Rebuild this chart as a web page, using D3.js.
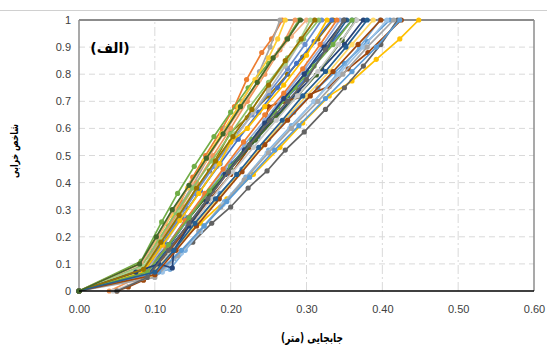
<!DOCTYPE html>
<html><head><meta charset="utf-8">
<script src="https://cdn.jsdelivr.net/npm/d3@7"></script>
<style>body{margin:0;background:#fff}svg{display:block}</style>
</head><body>
<script>
const xTicks = [0, 0.1, 0.2, 0.3, 0.4, 0.5, 0.6];
const yTicks = [0, 0.1, 0.2, 0.3, 0.4, 0.5, 0.6, 0.7, 0.8, 0.9, 1];
const xTitle = "جابجایی (متر)";
const yTitle = "شاخص خرابی";
const panelLabel = "(الف)";
// each series: [displacement, damage index] points
const seriesData = [
 [[0,0],[0.085,0.07],[0.117,0.17],[0.142,0.27],[0.176,0.37],[0.201,0.47],[0.236,0.57],[0.262,0.68],[0.298,0.78],[0.325,0.89],[0.36,1]],
 [[0,0],[0.078,0.08],[0.098,0.15],[0.118,0.24],[0.134,0.33],[0.15,0.42],[0.167,0.5],[0.189,0.6],[0.205,0.68],[0.221,0.78],[0.241,0.88],[0.254,0.93],[0.268,1]],
 [[0,0],[0.08,0.09],[0.105,0.18],[0.128,0.29],[0.15,0.39],[0.172,0.5],[0.193,0.6],[0.215,0.7],[0.238,0.81],[0.252,0.9],[0.265,1]],
 [[0,0],[0.09,0.08],[0.125,0.16],[0.16,0.25],[0.195,0.34],[0.23,0.43],[0.265,0.53],[0.295,0.62],[0.33,0.72],[0.36,0.775],[0.392,0.855],[0.423,0.93],[0.448,1]],
 [[0,0],[0.1,0.08],[0.128,0.17],[0.156,0.26],[0.186,0.36],[0.215,0.45],[0.25,0.56],[0.283,0.66],[0.315,0.75],[0.35,0.84],[0.38,0.92],[0.41,1]],
 [[0,0],[0.082,0.11],[0.109,0.255],[0.13,0.36],[0.152,0.46],[0.178,0.57],[0.2,0.66],[0.223,0.75],[0.25,0.84],[0.274,0.93],[0.29,1]],
 [[0,0],[0.095,0.07],[0.12,0.16],[0.148,0.26],[0.172,0.35],[0.2,0.45],[0.228,0.55],[0.262,0.65],[0.29,0.74],[0.32,0.82],[0.35,0.91],[0.375,1]],
 [[0.05,0],[0.065,0.015],[0.085,0.04],[0.11,0.12],[0.14,0.22],[0.17,0.33],[0.2,0.43],[0.225,0.53],[0.245,0.62],[0.25,0.68],[0.27,0.7],[0.3,0.72],[0.33,0.755],[0.355,0.82],[0.381,0.88],[0.425,1]],
 [[0,0],[0.1,0.06],[0.125,0.12],[0.15,0.18],[0.175,0.25],[0.2,0.31],[0.223,0.38],[0.248,0.443],[0.272,0.52],[0.297,0.587],[0.325,0.67],[0.35,0.75],[0.375,0.83],[0.398,0.91],[0.42,1]],
 [[0,0],[0.085,0.08],[0.11,0.18],[0.14,0.31],[0.172,0.443],[0.199,0.583],[0.222,0.64],[0.25,0.72],[0.275,0.8],[0.295,0.863],[0.315,0.93],[0.335,1]],
 [[0,0],[0.09,0.06],[0.115,0.15],[0.14,0.25],[0.165,0.34],[0.19,0.43],[0.22,0.53],[0.248,0.63],[0.275,0.72],[0.3,0.81],[0.328,0.9],[0.353,1]],
 [[0,0],[0.09,0.07],[0.118,0.17],[0.145,0.27],[0.172,0.36],[0.2,0.45],[0.233,0.557],[0.26,0.64],[0.288,0.72],[0.313,0.797],[0.347,0.926],[0.365,1]],
 [[0,0],[0.085,0.08],[0.108,0.17],[0.13,0.26],[0.153,0.36],[0.178,0.46],[0.2,0.55],[0.228,0.65],[0.25,0.73],[0.275,0.82],[0.298,0.91],[0.32,1]],
 [[0.04,0],[0.078,0.05],[0.095,0.13],[0.115,0.22],[0.135,0.31],[0.155,0.4],[0.177,0.5],[0.2,0.6],[0.222,0.7],[0.245,0.8],[0.265,0.89],[0.285,1]],
 [[0,0],[0.09,0.08],[0.112,0.17],[0.138,0.28],[0.16,0.37],[0.182,0.46],[0.205,0.56],[0.23,0.66],[0.25,0.74],[0.272,0.83],[0.292,0.92],[0.31,1]],
 [[0,0],[0.08,0.1],[0.1,0.18],[0.122,0.28],[0.143,0.38],[0.165,0.48],[0.188,0.58],[0.21,0.68],[0.232,0.78],[0.25,0.86],[0.262,0.93],[0.272,1]],
 [[0,0],[0.12,0.08],[0.14,0.15],[0.165,0.24],[0.192,0.33],[0.22,0.42],[0.25,0.52],[0.28,0.61],[0.31,0.7],[0.34,0.8],[0.37,0.9],[0.397,1]],
 [[0,0],[0.082,0.09],[0.105,0.19],[0.128,0.29],[0.15,0.38],[0.175,0.48],[0.2,0.58],[0.225,0.68],[0.25,0.77],[0.275,0.86],[0.296,0.93],[0.316,1]],
 [[0,0],[0.088,0.06],[0.115,0.16],[0.14,0.25],[0.165,0.35],[0.192,0.45],[0.218,0.54],[0.245,0.63],[0.27,0.72],[0.298,0.82],[0.322,0.91],[0.344,1]],
 [[0,0],[0.082,0.1],[0.104,0.2],[0.125,0.3],[0.148,0.4],[0.17,0.49],[0.193,0.59],[0.215,0.68],[0.238,0.78],[0.26,0.87],[0.28,0.94],[0.3,1]],
 [[0.045,0],[0.09,0.05],[0.12,0.14],[0.148,0.24],[0.175,0.34],[0.203,0.44],[0.23,0.53],[0.26,0.63],[0.288,0.72],[0.315,0.81],[0.342,0.91],[0.366,1]],
 [[0,0],[0.095,0.06],[0.125,0.15],[0.152,0.24],[0.18,0.33],[0.21,0.43],[0.24,0.53],[0.27,0.63],[0.3,0.72],[0.33,0.81],[0.36,0.91],[0.388,1]],
 [[0,0],[0.11,0.07],[0.135,0.14],[0.16,0.22],[0.19,0.32],[0.218,0.41],[0.248,0.51],[0.278,0.6],[0.31,0.7],[0.343,0.8],[0.375,0.9],[0.406,1]],
 [[0,0],[0.085,0.09],[0.11,0.19],[0.133,0.29],[0.155,0.38],[0.18,0.48],[0.205,0.58],[0.228,0.67],[0.25,0.76],[0.272,0.84],[0.29,0.92],[0.305,1]],
 [[0,0],[0.088,0.08],[0.112,0.18],[0.135,0.27],[0.16,0.37],[0.186,0.47],[0.21,0.56],[0.237,0.66],[0.262,0.75],[0.287,0.84],[0.31,0.92],[0.333,1]],
 [[0,0],[0.09,0.07],[0.115,0.16],[0.14,0.26],[0.166,0.36],[0.19,0.45],[0.217,0.55],[0.245,0.65],[0.27,0.73],[0.295,0.82],[0.318,0.91],[0.34,1]],
 [[0,0],[0.1,0.05],[0.13,0.13],[0.158,0.22],[0.187,0.31],[0.218,0.41],[0.25,0.51],[0.28,0.6],[0.315,0.7],[0.348,0.8],[0.38,0.9],[0.415,1]],
 [[0,0],[0.085,0.07],[0.11,0.17],[0.133,0.26],[0.158,0.36],[0.185,0.47],[0.2,0.55],[0.222,0.6],[0.245,0.68],[0.27,0.76],[0.3,0.87],[0.327,1]],
 [[0,0],[0.105,0.07],[0.135,0.15],[0.165,0.24],[0.195,0.33],[0.225,0.42],[0.258,0.52],[0.29,0.61],[0.325,0.71],[0.36,0.81],[0.392,0.9],[0.423,1]],
 [[0,0],[0.09,0.07],[0.118,0.17],[0.145,0.27],[0.172,0.37],[0.2,0.46],[0.228,0.56],[0.258,0.66],[0.285,0.75],[0.31,0.83],[0.335,0.91],[0.36,1]],
 [[0,0],[0.075,0.07],[0.105,0.1],[0.123,0.085],[0.125,0.15],[0.145,0.24],[0.168,0.33],[0.193,0.43],[0.218,0.52],[0.245,0.62],[0.27,0.71],[0.297,0.8],[0.323,0.9],[0.35,1]],
 [[0,0],[0.1,0.06],[0.128,0.15],[0.155,0.24],[0.185,0.34],[0.215,0.44],[0.245,0.54],[0.275,0.63],[0.305,0.72],[0.335,0.81],[0.368,0.91],[0.398,1]],
 [[0.05,0],[0.09,0.05],[0.118,0.15],[0.145,0.25],[0.17,0.34],[0.197,0.44],[0.225,0.54],[0.252,0.63],[0.275,0.7],[0.3,0.78],[0.325,0.89],[0.349,1]],
 [[0,0],[0.085,0.08],[0.108,0.18],[0.132,0.28],[0.155,0.38],[0.18,0.48],[0.203,0.57],[0.228,0.67],[0.25,0.76],[0.272,0.85],[0.293,0.93],[0.311,1]],
 [[0,0],[0.1,0.07],[0.125,0.15],[0.153,0.25],[0.18,0.34],[0.208,0.43],[0.237,0.53],[0.268,0.63],[0.295,0.72],[0.325,0.81],[0.352,0.9],[0.38,1]],
 [[0,0],[0.08,0.1],[0.102,0.2],[0.123,0.3],[0.145,0.39],[0.168,0.49],[0.19,0.58],[0.213,0.68],[0.235,0.77],[0.256,0.86],[0.275,0.93],[0.292,1]]
];

const palette = ["#4472C4","#ED7D31","#A5A5A5","#FFC000","#5B9BD5","#70AD47",
 "#264478","#9E480E","#636363","#997300","#255E91","#43682B",
 "#698ED0","#F1975A","#B7B7B7","#FFCD33","#7CAFDD","#8CC168",
 "#8FAADC","#F4B183","#C9C9C9","#FFD966","#9DC3E6","#A9D18E"];

const W = 547, H = 345;
const m = {left: 79, right: 13, top: 20, bottom: 54};
const svg = d3.select("body").append("svg").attr("width", W).attr("height", H);

const x = d3.scaleLinear().domain([0, 0.6]).range([m.left, W - m.right]);
const y = d3.scaleLinear().domain([0, 1]).range([H - m.bottom, m.top]);

svg.append("line").attr("x1",0).attr("x2",W).attr("y1",10.5).attr("y2",10.5)
  .attr("stroke","#d0d0d0").attr("stroke-width",1);

// grid
svg.append("g").selectAll("line").data(yTicks.filter(d => d > 0 && d < 1)).join("line")
  .attr("x1", x(0)).attr("x2", x(0.6)).attr("y1", d => y(d)).attr("y2", d => y(d))
  .attr("stroke", "#d9d9d9").attr("stroke-width", 1).attr("stroke-dasharray", "6,4");
svg.append("g").selectAll("line").data(xTicks.filter(d => d > 0 && d < 0.6)).join("line")
  .attr("x1", d => x(d)).attr("x2", d => x(d)).attr("y1", y(0)).attr("y2", y(1))
  .attr("stroke", "#d9d9d9").attr("stroke-width", 1).attr("stroke-dasharray", "9,3,2,3");

// frame
svg.append("line").attr("x1", x(0)).attr("x2", x(0.6)).attr("y1", y(1)).attr("y2", y(1))
  .attr("stroke", "#8c8c8c").attr("stroke-width", 2);
svg.append("line").attr("x1", x(0.6)).attr("x2", x(0.6)).attr("y1", y(1)).attr("y2", y(0))
  .attr("stroke", "#8c8c8c").attr("stroke-width", 1.5);
svg.append("line").attr("x1", x(0)).attr("x2", x(0)).attr("y1", y(1)).attr("y2", y(0))
  .attr("stroke", "#8c8c8c").attr("stroke-width", 1.5);

// series
const line = d3.line().x(d => x(d[0])).y(d => y(d[1]));
const gS = svg.append("g");
seriesData.forEach((s, i) => {
  const c = palette[i % palette.length];
  gS.append("path").datum(s).attr("d", line).attr("fill", "none")
    .attr("stroke", c).attr("stroke-width", 1.7);
  gS.append("g").selectAll("circle").data(s).join("circle")
    .attr("cx", d => x(d[0])).attr("cy", d => y(d[1])).attr("r", 2.6).attr("fill", c);
});

svg.append("line").attr("x1", x(0)).attr("x2", x(0.6)).attr("y1", y(0)).attr("y2", y(0))
  .attr("stroke", "#000").attr("stroke-width", 1.5);

// axes labels
const xa = svg.append("g").attr("transform", `translate(0,${y(0)})`)
  .call(d3.axisBottom(x).tickValues(xTicks).tickFormat(d3.format(".2f")).tickSize(0).tickPadding(14));
xa.select(".domain").remove();
xa.selectAll("text").attr("font-family", "Liberation Sans, Arial, sans-serif").attr("font-size", 11).attr("fill", "#404040");
const ya = svg.append("g").attr("transform", `translate(${x(0)},0)`)
  .call(d3.axisLeft(y).tickValues(yTicks).tickFormat(d => d3.format("")(+d.toFixed(1))).tickSize(0).tickPadding(8));
ya.select(".domain").remove();
ya.selectAll("text").attr("font-family", "Liberation Sans, Arial, sans-serif").attr("font-size", 11).attr("fill", "#404040");

svg.append("text").attr("x", 312).attr("y", 342).attr("text-anchor", "middle")
  .attr("font-family", "DejaVu Sans, sans-serif").attr("font-weight", "bold").attr("font-size", 12)
  .attr("textLength", 62).attr("lengthAdjust", "spacingAndGlyphs")
  .attr("direction", "rtl").text(xTitle);
svg.append("text").attr("transform", "translate(18,151) rotate(-90)").attr("text-anchor", "middle")
  .attr("font-family", "DejaVu Sans, sans-serif").attr("font-weight", "bold").attr("font-size", 11)
  .attr("textLength", 54).attr("lengthAdjust", "spacingAndGlyphs")
  .attr("direction", "rtl").text(yTitle);
svg.append("text").attr("x", 110).attr("y", 53).attr("text-anchor", "middle")
  .attr("font-family", "DejaVu Sans, sans-serif").attr("font-weight", "bold").attr("font-size", 14)
  .attr("direction", "rtl").text(panelLabel);
</script>
</body></html>
